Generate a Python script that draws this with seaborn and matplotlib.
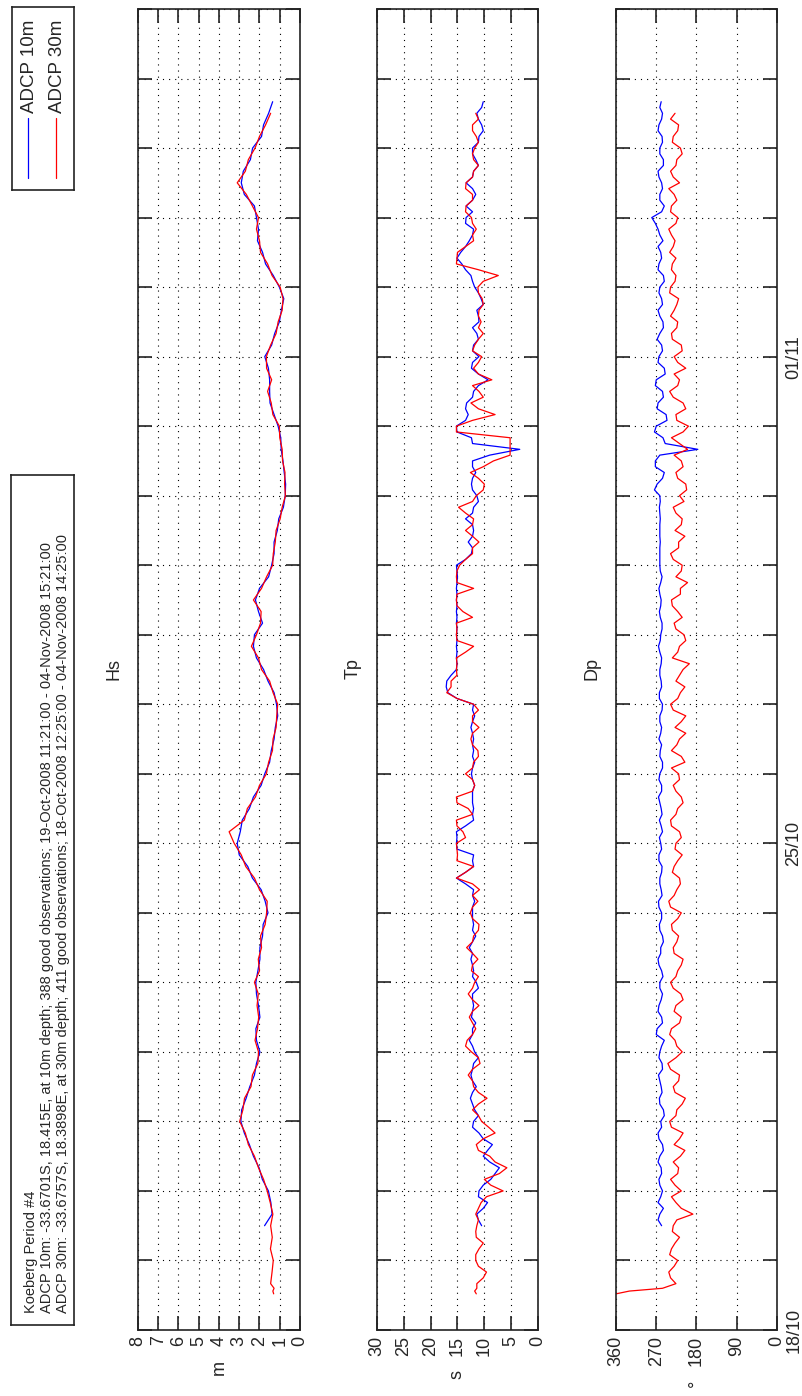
import numpy as np
import pandas as pd
import matplotlib
matplotlib.use("Agg")
import matplotlib.pyplot as plt
import matplotlib.dates as mdates
from matplotlib.ticker import FuncFormatter
import seaborn as sns

sns.set_theme(style="white")
plt.rcParams["font.family"] = ["Liberation Sans", "DejaVu Sans"]

# ---------------------------------------------------------------- data
START = pd.Timestamp("2008-10-18")
# days since 18-Oct-2008 00:00; the 30 m record opens with three hourly samples
HEAD30 = [0.52, 0.56, 0.60]
t30_days = np.concatenate([HEAD30, 0.5 + np.arange(1, 103) / 6])      # 4-hourly
t10_days = 1.5 + np.arange(98) / 6                                       # 4-hourly
t30_fine_days = np.concatenate([HEAD30, 2 / 3 + np.arange(203) / 12])  # 2-hourly
t10_fine_days = 1.5 + np.arange(195) / 12                                # 2-hourly

hs_30m = [1.30, 1.34, 1.28,
          1.45, 1.38, 1.32, 1.46, 1.37,
          1.45, 1.34, 1.47, 1.62, 1.80, 2.05,
          2.25, 2.55, 2.70, 2.98, 2.82, 2.74,
          2.42, 2.35, 2.08, 2.05, 2.22, 2.10,
          2.04, 2.12, 2.06, 2.25, 2.00, 2.06,
          1.90, 1.95, 1.72, 1.65, 1.62, 2.00,
          2.25, 2.68, 2.90, 3.25, 3.50, 2.75,
          2.60, 2.20, 2.00, 1.66, 1.55, 1.36,
          1.33, 1.18, 1.15, 1.10, 1.33, 1.50,
          1.90, 2.05, 2.40, 2.15, 1.95, 1.92,
          2.30, 1.90, 1.65, 1.35, 1.32, 1.22,
          1.18, 0.98, 0.88, 0.72, 0.76, 0.74,
          0.86, 0.88, 1.00, 1.02, 1.34, 1.42,
          1.60, 1.40, 1.65, 1.66, 1.45, 1.18,
          1.08, 0.88, 0.84, 0.98, 1.38, 1.60,
          1.95, 2.00, 2.15, 2.05, 2.35, 2.65,
          3.10, 2.70, 2.55, 2.22, 2.00, 1.70,
          1.45]
hs_10m = [1.75, 1.38, 1.44, 1.56, 1.86, 2.02,
          2.30, 2.50, 2.75, 2.92, 2.88, 2.66,
          2.48, 2.25, 2.15, 1.98, 2.15, 2.18,
          1.98, 2.05, 2.15, 2.18, 2.08, 1.98,
          1.98, 1.85, 1.82, 1.58, 1.72, 1.92,
          2.35, 2.58, 3.00, 3.10, 2.95, 2.85,
          2.50, 2.30, 1.92, 1.74, 1.50, 1.42,
          1.28, 1.22, 1.10, 1.16, 1.28, 1.58,
          1.80, 2.15, 2.30, 2.25, 1.85, 2.05,
          2.20, 2.00, 1.55, 1.40, 1.28, 1.28,
          1.12, 1.05, 0.82, 0.73, 0.71, 0.78,
          0.84, 0.93, 0.95, 1.08, 1.28, 1.48,
          1.50, 1.50, 1.56, 1.74, 1.40, 1.25,
          1.02, 0.92, 0.80, 1.02, 1.32, 1.70,
          1.85, 2.10, 2.05, 2.15, 2.25, 2.75,
          2.90, 2.80, 2.45, 2.34, 1.90, 1.80,
          1.55, 1.35]

tp_30m = [11.5, 11.8, 11.4,
          11.4, 10.2, 9.6, 11.1, 11.6, 11.6, 11.0, 10.2, 11.5, 11.6, 11.4, 11.1,
          11.6, 11.1, 10.6, 9.6, 6.5, 8.8, 10.0, 7.2, 5.8, 8.0, 9.0, 11.1,
          11.5, 10.2, 8.0, 9.2, 10.5, 11.1, 12.2, 11.1, 9.5, 11.1, 12.0, 12.2,
          13.0, 12.2, 10.8, 11.1, 12.4, 13.5, 13.2, 12.2, 11.6, 12.2, 12.8, 12.2,
          11.0, 12.2, 13.0, 12.2, 11.8, 11.1, 12.4, 12.2, 11.2, 12.2, 13.3, 12.2,
          12.0, 11.1, 11.0, 12.2, 12.6, 12.2, 11.2, 12.2, 10.9, 12.2, 15.2, 13.5,
          12.0, 15.1, 15.0, 15.1, 15.2, 13.5, 14.0, 15.1, 15.2, 12.2, 13.0, 15.1,
          15.2, 12.2, 11.8, 12.2, 13.5, 12.2, 12.0, 11.1, 11.2, 12.2, 12.5, 12.2,
          11.0, 12.2, 12.2, 11.1, 12.0, 15.1, 17.0, 16.2, 16.2, 15.1, 15.2, 15.1,
          15.2, 13.5, 12.0, 15.1, 15.2, 15.1, 15.2, 12.2, 14.0, 15.1, 15.2, 15.1,
          12.0, 15.1, 15.2, 15.1, 14.6, 13.5, 12.2, 12.2, 11.0, 12.2, 13.5, 12.2,
          12.0, 13.5, 14.8, 12.2, 11.5, 10.2, 10.0, 11.1, 12.6, 10.2, 8.3, 5.2,
          5.2, 5.2, 5.2, 15.2, 15.2, 12.2, 8.0, 11.1, 12.5, 10.2, 11.0, 12.2,
          8.6, 11.1, 12.0, 11.1, 10.5, 12.2, 11.8, 11.1, 10.2, 11.1, 10.6, 11.1,
          11.0, 10.2, 10.4, 11.1, 11.2, 10.2, 7.4, 11.1, 15.2, 15.1, 15.0, 13.5,
          12.0, 12.2, 11.5, 12.2, 12.4, 13.5, 13.4, 12.2, 12.2, 13.5, 13.4, 12.2,
          12.0, 11.1, 12.0, 12.2, 11.8, 11.1, 11.5, 12.2, 12.2, 11.1, 11.6]
tp_10m = [10.5, 11.1, 11.4, 10.2, 9.4, 11.1, 11.0, 10.2, 8.8, 8.0, 7.2, 9.0,
          10.2, 9.4, 8.5, 10.2, 11.0, 12.2, 12.0, 11.1, 11.8, 12.2, 12.6, 12.2,
          11.5, 12.2, 12.5, 12.2, 12.0, 11.1, 11.8, 12.2, 12.8, 12.2, 12.2, 11.6,
          12.4, 12.2, 12.0, 12.2, 12.2, 11.1, 11.5, 12.2, 12.0, 12.2, 12.5, 12.2,
          12.8, 12.2, 11.6, 12.2, 12.0, 12.2, 12.2, 12.2, 11.8, 12.2, 12.0, 13.5,
          15.2, 13.5, 12.0, 12.2, 12.0, 15.1, 15.2, 15.1, 15.2, 13.5, 12.0, 12.2,
          12.0, 12.2, 12.2, 12.2, 11.8, 12.2, 12.4, 12.2, 11.8, 12.2, 12.0, 12.2,
          12.0, 12.2, 12.5, 12.2, 11.8, 12.2, 12.0, 15.1, 16.8, 17.1, 17.0, 16.2,
          15.2, 15.1, 15.2, 15.1, 15.2, 15.1, 15.2, 15.1, 15.2, 15.1, 15.2, 15.1,
          15.2, 15.1, 15.2, 15.1, 15.0, 15.1, 15.2, 13.5, 12.4, 12.2, 13.0, 12.2,
          12.0, 12.2, 13.5, 12.2, 12.0, 11.1, 11.4, 12.2, 12.4, 12.2, 11.6, 12.2,
          12.2, 9.0, 3.4, 12.2, 12.4, 15.1, 15.2, 13.5, 13.0, 13.5, 13.3, 12.2,
          12.0, 11.1, 9.3, 11.1, 12.4, 12.2, 11.0, 12.2, 12.0, 11.1, 11.4, 12.2,
          11.0, 11.1, 11.4, 10.2, 10.6, 11.1, 11.8, 12.2, 12.5, 13.5, 14.2, 15.1,
          14.4, 13.5, 12.8, 12.2, 12.0, 13.5, 13.4, 12.2, 13.4, 12.2, 11.6, 12.2,
          13.4, 12.2, 12.0, 11.1, 11.6, 12.2, 12.2, 11.1, 11.0, 10.2, 10.5, 11.1,
          11.4, 10.5, 10.2]

dp_30m = [360, 330, 256,
          226, 238, 242, 230, 222, 240, 236, 228, 218, 234, 232, 224,
          188, 214, 226, 236, 214, 228, 238, 222, 220, 232, 216, 206,
          230, 218, 210, 236, 240, 226, 224, 212, 205, 228, 232, 220,
          218, 238, 244, 226, 212, 224, 228, 240, 236, 218, 214, 230,
          226, 210, 215, 232, 238, 226, 222, 214, 210, 230, 232, 224,
          220, 234, 236, 222, 214, 238, 242, 230, 224, 216, 218, 234,
          230, 222, 212, 228, 226, 214, 218, 236, 238, 226, 222, 210,
          214, 226, 232, 218, 220, 236, 206, 214, 236, 224, 218, 204,
          228, 214, 204, 232, 238, 222, 216, 206, 226, 218, 210, 196,
          234, 222, 218, 204, 208, 226, 230, 212, 222, 234, 236, 216,
          216, 200, 226, 214, 212, 232, 238, 220, 220, 206, 228, 214,
          212, 226, 232, 208, 218, 202, 204, 222, 226, 210, 214, 230,
          200, 218, 236, 210, 198, 224, 226, 204, 210, 232, 240, 222,
          218, 230, 204, 222, 230, 212, 214, 234, 236, 224, 222, 238,
          230, 224, 220, 240, 238, 228, 226, 236, 234, 226, 240, 232,
          228, 236, 242, 226, 222, 238, 236, 224, 230, 242, 218, 232,
          238, 226, 224, 212, 216, 234, 232, 222, 220, 238, 228]
dp_10m = [258, 266, 262, 254, 266, 260, 256, 262, 264, 258, 259, 266,
          262, 254, 256, 264, 266, 258, 260, 252, 254, 262, 263, 257,
          259, 262, 265, 256, 257, 264, 262, 258, 252, 270, 268, 256,
          258, 266, 264, 259, 256, 262, 262, 255, 258, 264, 266, 260,
          260, 254, 256, 262, 263, 258, 258, 264, 265, 257, 259, 262,
          262, 258, 257, 264, 264, 258, 260, 263, 256, 259, 263, 257,
          259, 262, 265, 258, 258, 264, 262, 256, 256, 262, 261, 258,
          264, 260, 258, 262, 262, 257, 256, 263, 263, 258, 259, 262,
          262, 259, 258, 262, 265, 261, 260, 257, 257, 261, 263, 260,
          259, 262, 264, 260, 257, 261, 262, 262, 262, 262, 261, 262,
          262, 262, 261, 262, 263, 261, 262, 274, 268, 256, 252, 272,
          272, 262, 177, 250, 255, 274, 270, 246, 248, 268, 266, 254,
          256, 272, 270, 250, 252, 266, 264, 256, 258, 268, 262, 254,
          255, 262, 266, 256, 258, 264, 262, 252, 254, 266, 264, 258,
          260, 266, 255, 262, 266, 272, 280, 258, 252, 262, 262, 256,
          258, 264, 266, 254, 254, 262, 262, 256, 257, 266, 264, 258,
          256, 262, 259]

panel_titles = ["Hs", "Tp", "Dp"]
unit_labels = ["m", "s", "\u00b0"]
value_ticks = [list(range(0, 9)), list(range(0, 31, 5)), [0, 90, 180, 270, 360]]
value_limits = [8, 30, 360]
labelled_days = ["18/10", "25/10", "01/11"]
legend_names = ["ADCP 10m", "ADCP 30m"]
info_lines = [
    "Koeberg Period #4",
    "ADCP 10m: -33.6701S, 18.415E, at 10m depth; 388 good observations; "
    "19-Oct-2008 11:21:00 - 04-Nov-2008 15:21:00",
    "ADCP 30m: -33.6757S, 18.3898E, at 30m depth; 411 good observations; "
    "18-Oct-2008 12:25:00 - 04-Nov-2008 14:25:00",
]

# ---------------------------------------------------------------- layout
W, H = 803, 1396
fig = plt.figure(figsize=(W / 100, H / 100), dpi=100, facecolor="white")


def frac(x0, y0, x1, y1):
    """pixel box (top-left origin) -> figure fraction rect"""
    return [x0 / W, 1 - y1 / H, (x1 - x0) / W, (y1 - y0) / H]


BLUE, RED = "#0000ff", "#ff0000"
t0 = mdates.date2num(START)
series = [
    ((t0 + t10_days, hs_10m), (t0 + t30_days, hs_30m)),
    ((t0 + t10_fine_days, tp_10m), (t0 + t30_fine_days, tp_30m)),
    ((t0 + t10_fine_days, dp_10m), (t0 + t30_fine_days, dp_30m)),
]
panel_x = [(138, 300), (377, 538), (616, 777)]


def day_label(val, pos):
    s = mdates.num2date(val).strftime("%d/%m")
    return s if s in labelled_days else ""


for i, (((ta, v10), (tb, v30)), (x0, x1)) in enumerate(zip(series, panel_x)):
    ax = fig.add_axes(frac(x0, 9, x1, 1330))
    sns.lineplot(x=v10, y=ta, orient="y", sort=False, estimator=None,
                 color=BLUE, lw=0.9, ax=ax, legend=False)
    sns.lineplot(x=v30, y=tb, orient="y", sort=False, estimator=None,
                 color=RED, lw=0.9, ax=ax, legend=False)
    ax.set_xlim(value_limits[i], 0)
    ax.set_xticks(value_ticks[i])
    ax.set_ylim(t0, t0 + 19)
    ax.yaxis.set_major_locator(mdates.DayLocator())
    ax.yaxis.set_major_formatter(FuncFormatter(day_label))
    ax.grid(True, color="black", linestyle=(0, (1, 4.5)), linewidth=0.8)
    ax.tick_params(axis="both", which="major", direction="in", length=10,
                   width=1.2, color="#222222", top=True, bottom=True,
                   left=True, right=True, labelsize=13, pad=4)
    ax.tick_params(axis="x", labelrotation=90)
    ax.tick_params(axis="y", labelleft=False, labelright=(i == 2),
                   labelrotation=90, pad=6)
    for lab in ax.get_yticklabels():
        lab.set_va("center")
    for sp in ax.spines.values():
        sp.set_color("#222222")
        sp.set_linewidth(1.2)
    ax.set_xlabel(unit_labels[i], rotation=90, fontsize=13, labelpad=10)
    ax.set_ylabel("")
    # subplot title sits on the left of each rotated panel
    fig.text((x0 - 24) / W, 1 - 669 / H, panel_titles[i], rotation=90,
             ha="center", va="center", fontsize=13)

# legend box
leg = fig.add_axes(frac(12, 7, 74, 190))
leg.set_xlim(12, 74)
leg.set_ylim(190, 7)
leg.set_xticks([])
leg.set_yticks([])
for sp in leg.spines.values():
    sp.set_color("#222222")
    sp.set_linewidth(1.2)
for name, col, xc in zip(legend_names, [BLUE, RED], [28, 56]):
    leg.plot([xc, xc], [118, 178], color=col, lw=0.9)
    leg.text(xc + 1, 113, name, rotation=90, ha="center", va="bottom",
             fontsize=13.5)

# information box
info = fig.add_axes(frac(11, 475, 74, 1325))
info.set_xlim(11, 74)
info.set_ylim(1325, 475)
info.set_xticks([])
info.set_yticks([])
for sp in info.spines.values():
    sp.set_color("#222222")
    sp.set_linewidth(1.2)
info.text(47, 1313, "\n".join(info_lines), rotation=90, ha="center",
          va="bottom", multialignment="left", fontsize=10.5, linespacing=1.15)

fig.savefig("out.png", dpi=100, facecolor="white")
